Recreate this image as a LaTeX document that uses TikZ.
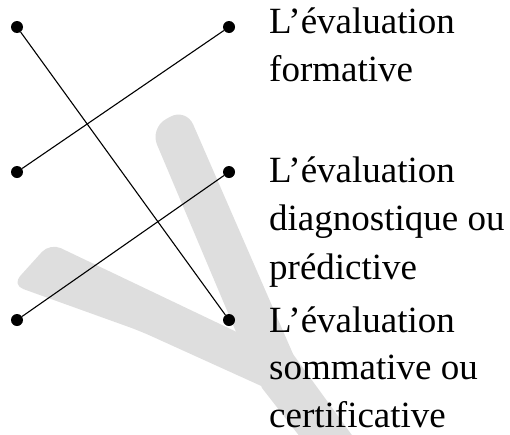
\documentclass[tikz,border=0pt]{standalone}
\usepackage{fontspec}
\setmainfont{Liberation Serif}
\definecolor{wmgray}{RGB}{222,222,222}
\tikzset{
  dot/.style={circle,fill=black,inner sep=0pt,minimum size=12pt},
  link/.style={line width=1.1pt,black},
  lbl/.style={anchor=base west,inner sep=0pt,font=\fontsize{37}{48.5}\selectfont},
  wm/.style={fill=wmgray}
}
\begin{document}
\begin{tikzpicture}[x=1pt,y=-1pt]
\useasboundingbox (0,0) rectangle (510,434);
\begin{scope}
\clip (0,0) rectangle (510,434);
\fill[wm,rounded corners=18pt] (150,128) -- (186,108) -- (300,370) -- (250,365) -- cycle;
\fill[wm,rounded corners=12pt] (50,243) -- (285,355) -- (290,399) -- (140,331) -- (12,285) -- cycle;
\fill[wm] (240,333) -- (290,350) -- (370,460) -- (318,460) -- (262,388) -- cycle;
\end{scope}
\node[dot] (l1) at (17,27) {};
\node[dot] (l2) at (17,172) {};
\node[dot] (l3) at (17,320) {};
\node[dot] (r1) at (229,27) {};
\node[dot] (r2) at (229,172) {};
\node[dot] (r3) at (229,320) {};
\draw[link] (l1) -- (r3);
\draw[link] (l2) -- (r1);
\draw[link] (l3) -- (r2);
\node[lbl] (t1) at (269,33) {\vtop{\hbox{L’évaluation}\hbox{formative}}};
\node[lbl] (t2) at (269,182) {\vtop{\hbox{L’évaluation}\hbox{diagnostique ou}\hbox{prédictive}}};
\node[lbl] (t3) at (269,332) {\vtop{\baselineskip=47.5pt\hbox{L’évaluation}\hbox{sommative ou}\hbox{certificative}}};
\end{tikzpicture}
\end{document}
